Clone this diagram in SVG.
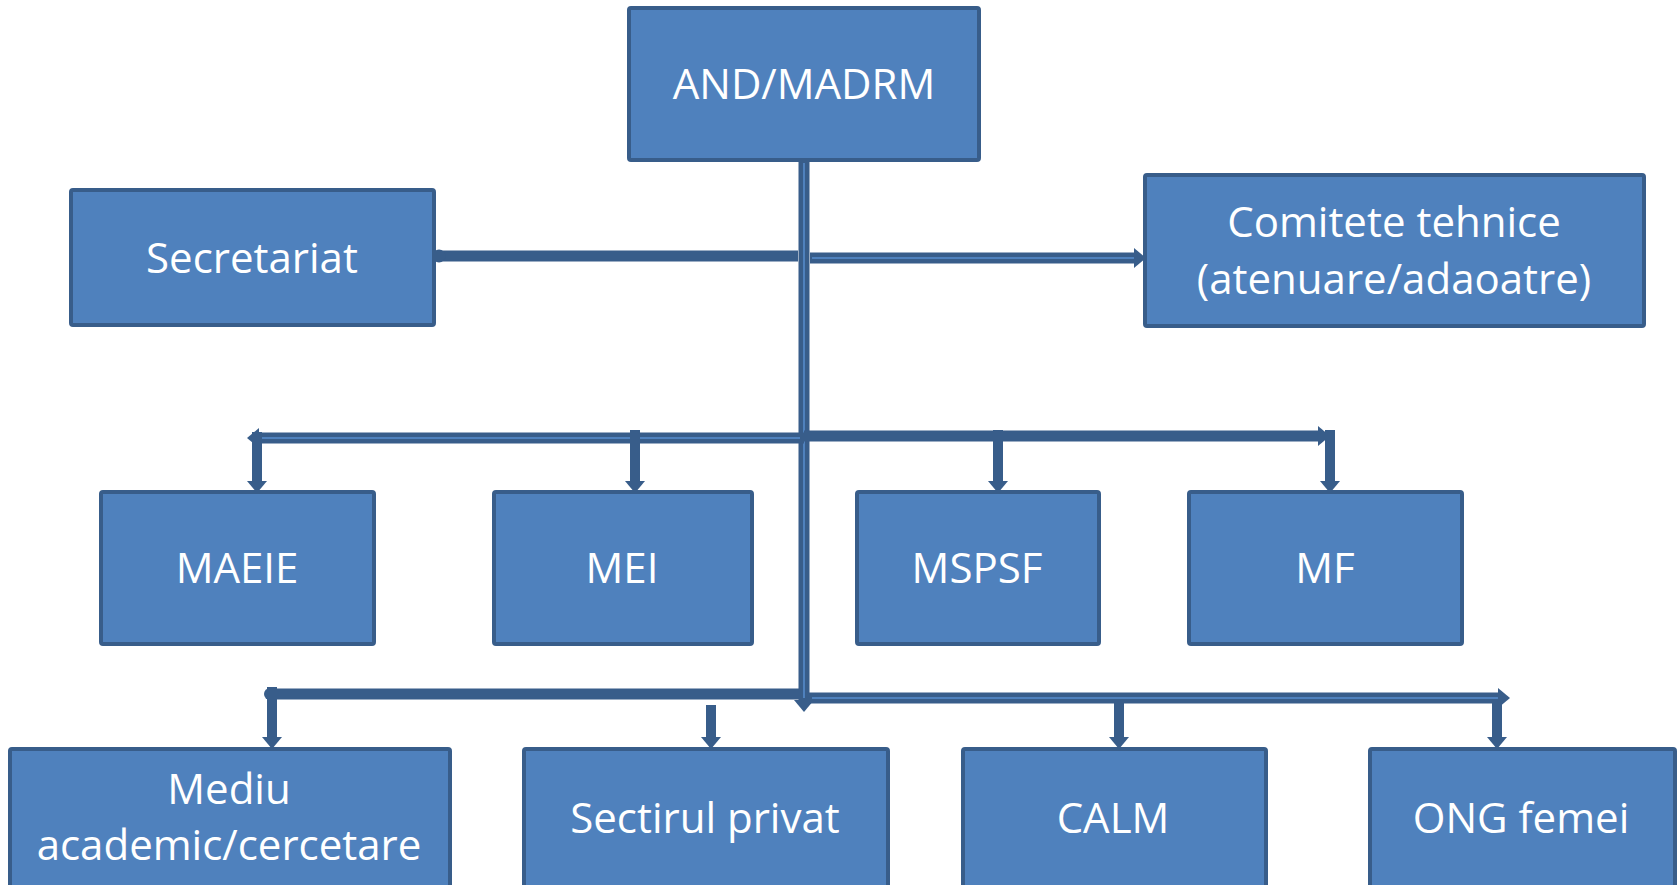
<svg xmlns="http://www.w3.org/2000/svg" width="1680" height="885" viewBox="0 0 1680 885">
<style>
.box{fill:#4F81BD;stroke:#385D8A;stroke-width:4}
.lbl{fill:#FFFFFF;font-family:"Open Sans","Liberation Sans",sans-serif;font-size:42px;text-anchor:middle}
.ln{stroke:#385D8A;stroke-width:11;fill:none}
.dr{stroke:#385D8A;stroke-width:10;fill:none}
.st{stroke:#4F81BD;stroke-width:2;fill:none}
</style>
<defs>
<marker id="ah" viewBox="0 0 12 20" refX="0" refY="10" markerWidth="12" markerHeight="20" markerUnits="userSpaceOnUse" orient="auto">
<path d="M0,0 L12,10 L0,20 Z" fill="#385D8A"/>
</marker>
</defs>
<rect width="1680" height="885" fill="#FFFFFF"/>
<g id="connectors">
<line class="ln" x1="804" y1="160" x2="804" y2="700" marker-end="url(#ah)"/>
<line class="st" x1="804" y1="163" x2="804" y2="698"/>
<line class="ln" x1="438" y1="256" x2="798" y2="256"/>
<circle cx="439" cy="256" r="6.5" fill="#385D8A"/>
<line class="ln" x1="810" y1="258" x2="1134" y2="258" marker-end="url(#ah)"/>
<line class="st" x1="812" y1="258" x2="1134" y2="258"/>
<line class="ln" x1="804" y1="438" x2="259" y2="438" marker-end="url(#ah)"/>
<line class="st" x1="800" y1="438" x2="259" y2="438"/>
<line class="ln" x1="804" y1="436" x2="1318" y2="436" marker-end="url(#ah)"/>
<line class="dr" x1="257" y1="432" x2="257" y2="481" marker-end="url(#ah)"/>
<line class="dr" x1="635" y1="430" x2="635" y2="481" marker-end="url(#ah)"/>
<line class="dr" x1="998" y1="430" x2="998" y2="481" marker-end="url(#ah)"/>
<line class="dr" x1="1330" y1="430" x2="1330" y2="481" marker-end="url(#ah)"/>
<line class="ln" x1="270" y1="694" x2="800" y2="694"/>
<circle cx="270" cy="694" r="6" fill="#385D8A"/>
<line class="ln" x1="808" y1="698" x2="1498" y2="698" marker-end="url(#ah)"/>
<line class="st" x1="812" y1="698" x2="1498" y2="698"/>
<line class="dr" x1="272" y1="687" x2="272" y2="737" marker-end="url(#ah)"/>
<line class="dr" x1="711" y1="705" x2="711" y2="737" marker-end="url(#ah)"/>
<line class="dr" x1="1119" y1="702" x2="1119" y2="737" marker-end="url(#ah)"/>
<line class="dr" x1="1497" y1="702" x2="1497" y2="737" marker-end="url(#ah)"/>
</g>
<g id="n-and"><rect class="box" x="629" y="8" width="350" height="152" rx="2"/><text class="lbl" x="804" y="99">AND/MADRM</text></g>
<g id="n-secretariat"><rect class="box" x="71" y="190" width="363" height="135" rx="2"/><text class="lbl" x="252" y="273">Secretariat</text></g>
<g id="n-comitete"><rect class="box" x="1145" y="175" width="499" height="151" rx="2"/><text class="lbl" x="1394" y="237">Comitete tehnice</text><text class="lbl" x="1394" y="294">(atenuare/adaoatre)</text></g>
<g id="n-maeie"><rect class="box" x="101" y="492" width="273" height="152" rx="2"/><text class="lbl" x="237" y="583">MAEIE</text></g>
<g id="n-mei"><rect class="box" x="494" y="492" width="258" height="152" rx="2"/><text class="lbl" x="622" y="583">MEI</text></g>
<g id="n-mspsf"><rect class="box" x="857" y="492" width="242" height="152" rx="2"/><text class="lbl" x="977" y="583">MSPSF</text></g>
<g id="n-mf"><rect class="box" x="1189" y="492" width="273" height="152" rx="2"/><text class="lbl" x="1325" y="583">MF</text></g>
<g id="n-mediu"><rect class="box" x="10" y="749" width="440" height="160" rx="2"/><text class="lbl" x="229" y="804">Mediu</text><text class="lbl" x="229" y="860">academic/cercetare</text></g>
<g id="n-privat"><rect class="box" x="524" y="749" width="364" height="160" rx="2"/><text class="lbl" x="705" y="833">Sectirul privat</text></g>
<g id="n-calm"><rect class="box" x="963" y="749" width="303" height="160" rx="2"/><text class="lbl" x="1113" y="833">CALM</text></g>
<g id="n-ong"><rect class="box" x="1370" y="749" width="305" height="160" rx="2"/><text class="lbl" x="1521" y="833">ONG femei</text></g>
</svg>
